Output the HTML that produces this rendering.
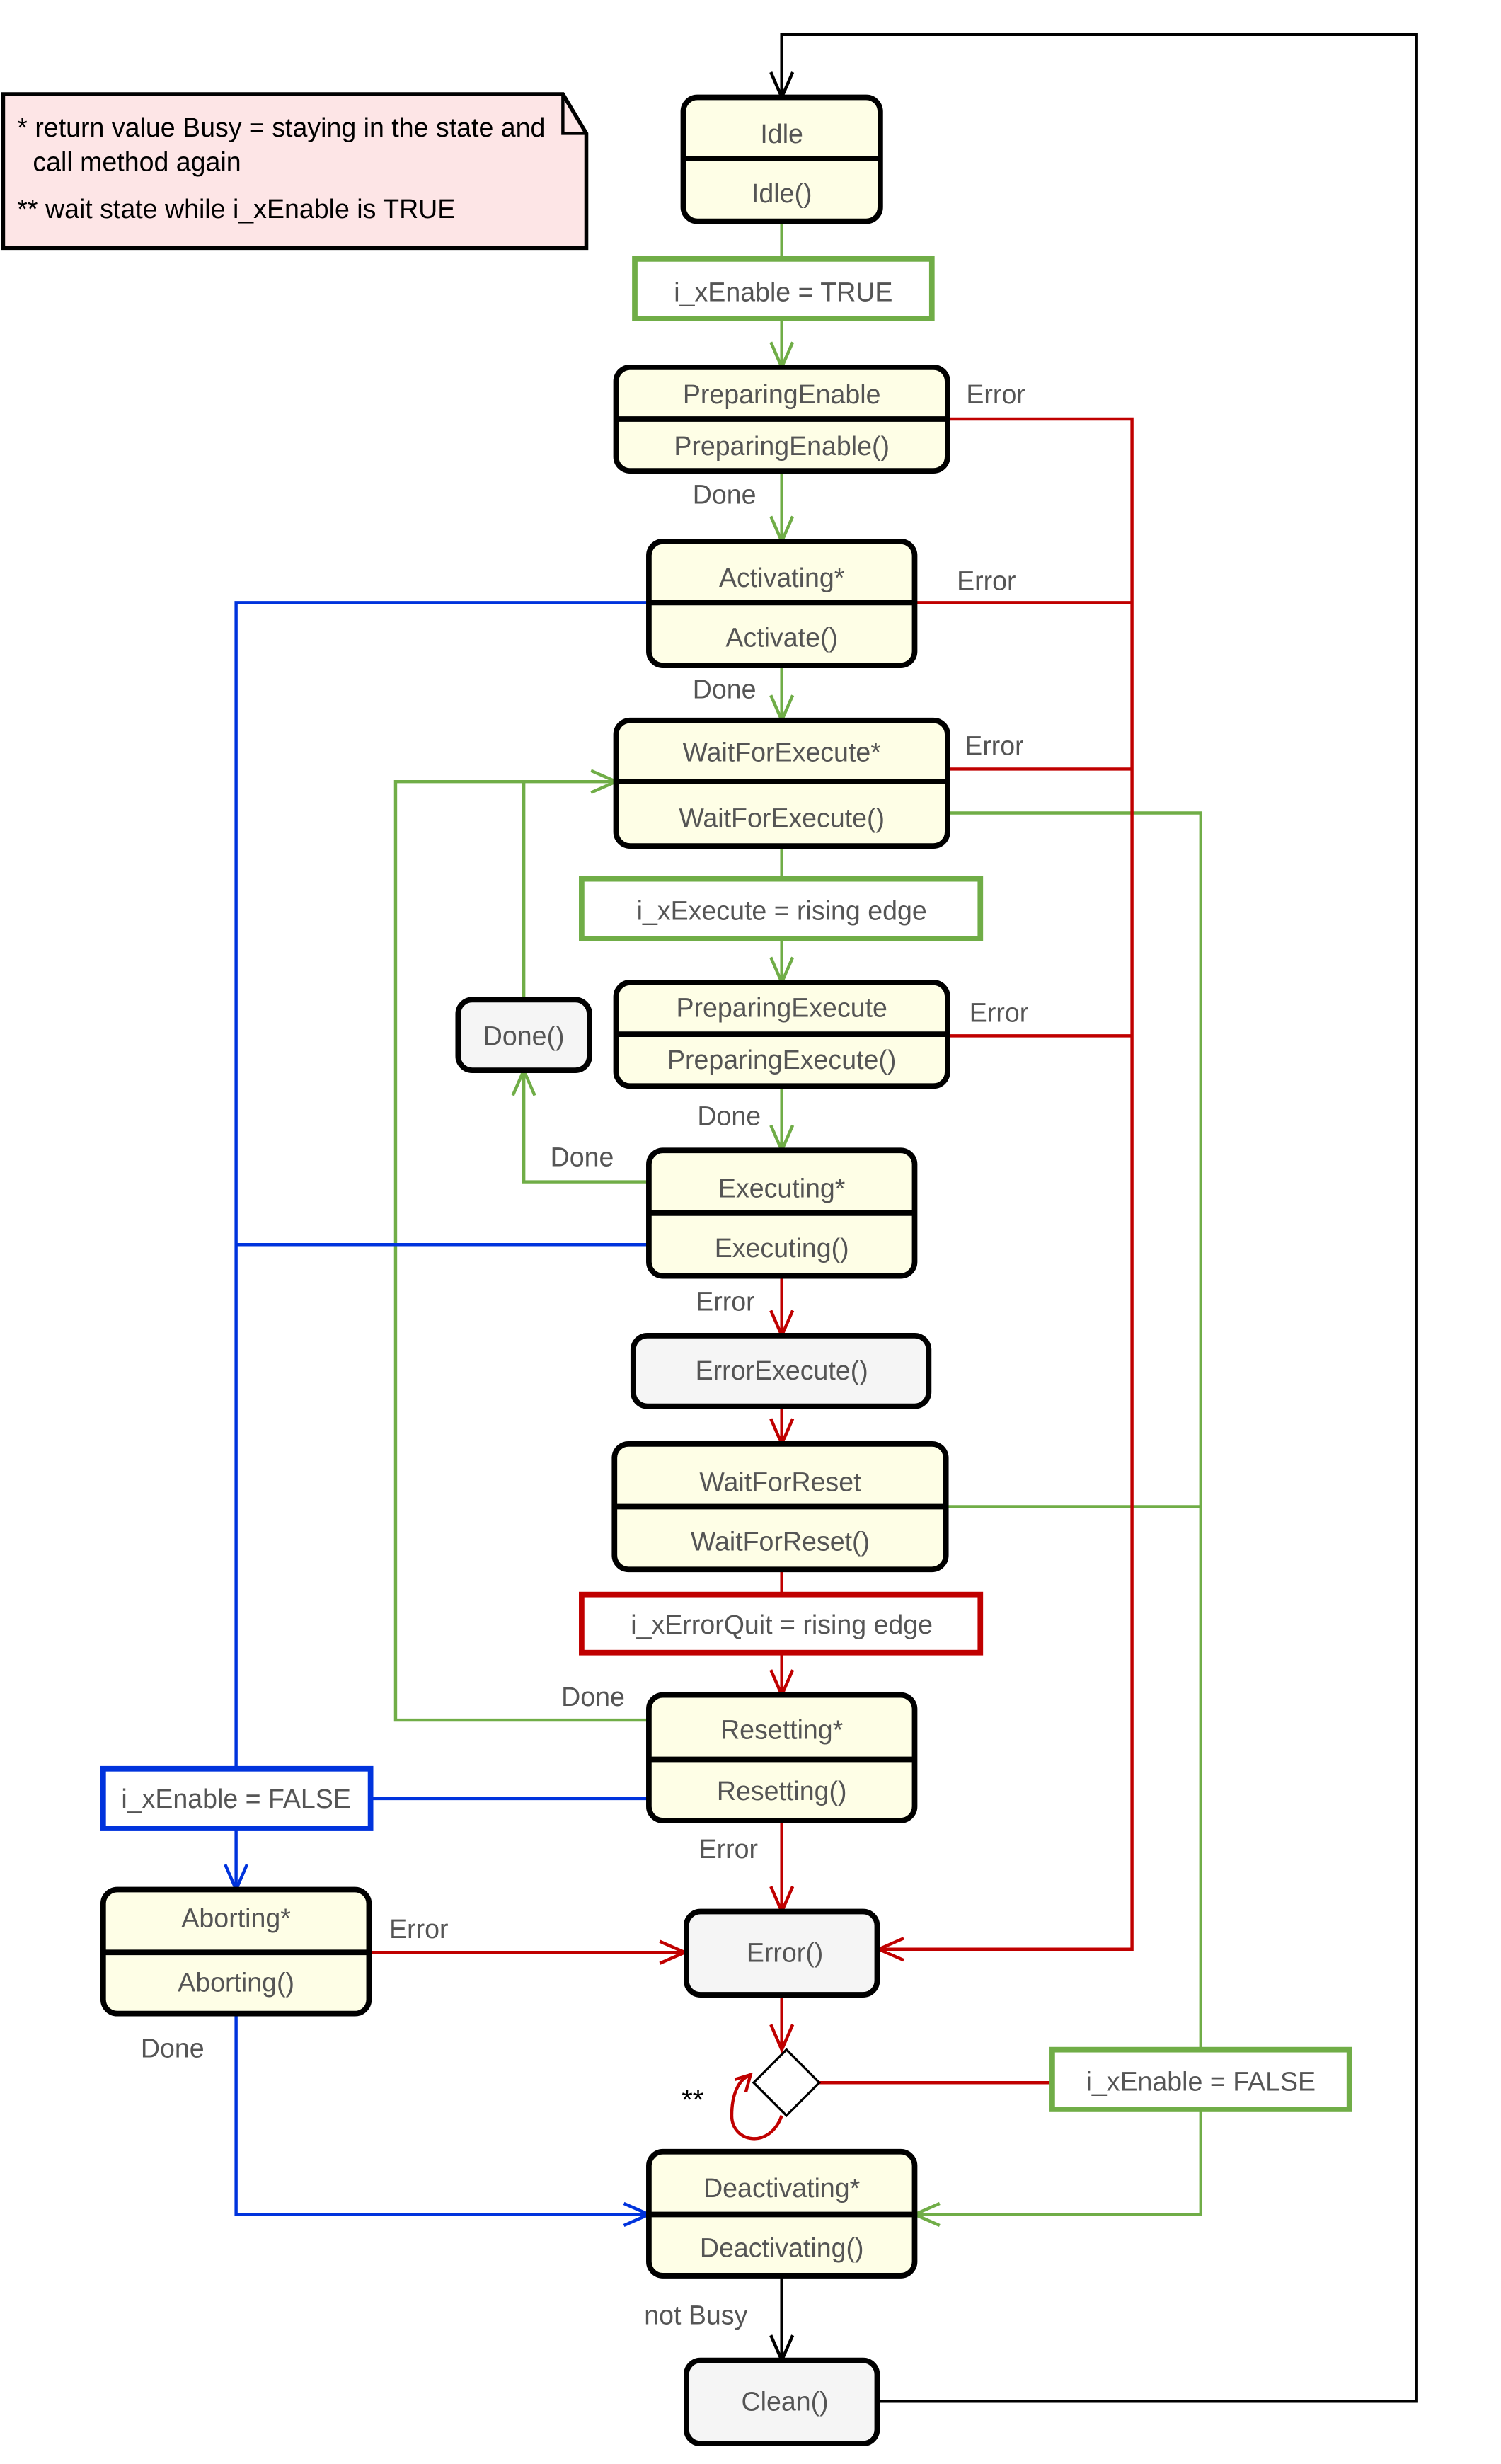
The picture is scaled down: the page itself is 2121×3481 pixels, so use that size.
<!DOCTYPE html>
<html><head><meta charset="utf-8"><style>html,body{margin:0;padding:0;background:#fff}svg{display:block}</style></head>
<body>
<svg width="2121" height="3481" viewBox="0 0 960 1570" preserveAspectRatio="none" xmlns="http://www.w3.org/2000/svg" font-family="Liberation Sans, sans-serif" font-size="17">
<g fill="none" stroke-linejoin="miter">
<!-- note -->
<path d="M2 60 H360 L375 85 V158 H2 Z" fill="#fde5e6" stroke="#000" stroke-width="2.5"/>
<path d="M360 60 V85 H375" stroke="#000" stroke-width="2"/>

<!-- black loop -->
<path d="M561 1530 H906 V22 H500 V62" stroke="#000" stroke-width="2"/>
<polyline points="493,46 500,62 507,46" stroke="#000" stroke-width="2"/>
<path d="M500 1450 V1504" stroke="#000" stroke-width="2"/>
<polyline points="493,1488 500,1504 507,1488" stroke="#000" stroke-width="2"/>

<!-- green lines -->
<g stroke="#70ad47" stroke-width="2">
<path d="M500 141 V165 M500 203 V234"/><polyline points="493,218 500,234 507,218"/>
<path d="M500 300 V345"/><polyline points="493,329 500,345 507,329"/>
<path d="M500 424 V459"/><polyline points="493,443 500,459 507,443"/>
<path d="M500 539 V560 M500 598 V626"/><polyline points="493,610 500,626 507,610"/>
<path d="M500 692 V733"/><polyline points="493,717 500,733 507,717"/>
<path d="M606 518 H768 V1306 M605 960 H768 M768 1344 V1411 H585"/><polyline points="601,1404 585,1411 601,1418"/>
<path d="M335 637 V498 H394 M415 1096 H253 V498 H335"/><polyline points="378,491 394,498 378,505"/>
<path d="M415 753 H335 V682"/><polyline points="328,698 335,682 342,698"/>
</g>
<!-- red lines -->
<g stroke="#c00000" stroke-width="2">
<path d="M606 267 H724 V1242 H562 M585 384 H724 M606 490 H724 M606 660 H724"/><polyline points="578,1235 562,1242 578,1249"/>
<path d="M500 813 V851"/><polyline points="493,835 500,851 507,835"/>
<path d="M500 896 V920"/><polyline points="493,904 500,920 507,904"/>
<path d="M500 1000 V1016 M500 1053 V1080"/><polyline points="493,1064 500,1080 507,1064"/>
<path d="M500 1160 V1218"/><polyline points="493,1202 500,1218 507,1202"/>
<path d="M236 1244 H438"/><polyline points="422,1237 438,1244 422,1251"/>
<path d="M500 1271 V1306"/><polyline points="493,1290 500,1306 507,1290"/>
<path d="M524 1327 H673"/>
<path d="M500 1348 C492 1370 468 1365 468 1348 C468 1335 472 1325 480 1322"/><polyline points="470,1325 480,1322 477,1333"/>
</g>
<!-- blue -->
<g stroke="#0033dd" stroke-width="2">
<path d="M415 384 H151 V1127 M415 793 H151 M415 1146 H237 M151 1165 V1204"/><polyline points="144,1188 151,1204 158,1188"/>
<path d="M151 1283 V1411 H415"/><polyline points="399,1404 415,1411 399,1418"/>
</g>
<!-- diamond -->
<path d="M503 1306 L524 1327 L503 1348 L482 1327 Z" fill="#fff" stroke="#000" stroke-width="1.5"/>

<!-- guard boxes -->
<rect x="406" y="165" width="190" height="38" fill="#fff" stroke="#70ad47" stroke-width="3.5"/>
<rect x="372" y="560" width="255" height="38" fill="#fff" stroke="#70ad47" stroke-width="3.5"/>
<rect x="372" y="1016" width="255" height="37" fill="#fff" stroke="#c00000" stroke-width="3.5"/>
<rect x="66" y="1127" width="171" height="38" fill="#fff" stroke="#0033dd" stroke-width="3.5"/>
<rect x="673" y="1306" width="190" height="38" fill="#fff" stroke="#70ad47" stroke-width="3.5"/>

<!-- states -->
<g stroke="#000" stroke-width="3.5" fill="#fefee6">
<rect x="437" y="62" width="126" height="79" rx="9"/><path d="M437 101 H563"/>
<rect x="394" y="234" width="212" height="66" rx="9"/><path d="M394 267 H606"/>
<rect x="415" y="345" width="170" height="79" rx="9"/><path d="M415 384 H585"/>
<rect x="394" y="459" width="212" height="80" rx="9"/><path d="M394 498 H606"/>
<rect x="394" y="626" width="212" height="66" rx="9"/><path d="M394 659 H606"/>
<rect x="415" y="733" width="170" height="80" rx="9"/><path d="M415 773 H585"/>
<rect x="393" y="920" width="212" height="80" rx="9"/><path d="M393 960 H605"/>
<rect x="415" y="1080" width="170" height="80" rx="9"/><path d="M415 1121 H585"/>
<rect x="66" y="1204" width="170" height="79" rx="9"/><path d="M66 1244 H236"/>
<rect x="415" y="1371" width="170" height="79" rx="9"/><path d="M415 1411 H585"/>
<rect x="293" y="637" width="84" height="45" rx="9" fill="#f5f5f5"/>
<rect x="405" y="851" width="189" height="45" rx="9" fill="#f5f5f5"/>
<rect x="439" y="1218" width="122" height="53" rx="9" fill="#f5f5f5"/>
<rect x="439" y="1504" width="122" height="53" rx="9" fill="#f5f5f5"/>
</g>
</g>

<g fill="#000">
<text x="11" y="87">* return value Busy = staying in the state and</text>
<text x="21" y="109">call method again</text>
<text x="11" y="139">** wait state while i_xEnable is TRUE</text>
<text x="436" y="1344" font-size="18">**</text>
</g>
<g fill="#555" text-anchor="middle">
<text x="500" y="91">Idle</text><text x="500" y="129">Idle()</text>
<text x="501" y="192">i_xEnable = TRUE</text>
<text x="500" y="257">PreparingEnable</text><text x="500" y="290">PreparingEnable()</text>
<text x="500" y="374">Activating*</text><text x="500" y="412">Activate()</text>
<text x="500" y="485">WaitForExecute*</text><text x="500" y="527">WaitForExecute()</text>
<text x="500" y="586">i_xExecute = rising edge</text>
<text x="500" y="648">PreparingExecute</text><text x="500" y="681">PreparingExecute()</text>
<text x="335" y="666">Done()</text>
<text x="500" y="763">Executing*</text><text x="500" y="801">Executing()</text>
<text x="500" y="879">ErrorExecute()</text>
<text x="499" y="950">WaitForReset</text><text x="499" y="988">WaitForReset()</text>
<text x="500" y="1041">i_xErrorQuit = rising edge</text>
<text x="500" y="1108">Resetting*</text><text x="500" y="1147">Resetting()</text>
<text x="151" y="1152">i_xEnable = FALSE</text>
<text x="151" y="1228">Aborting*</text><text x="151" y="1269">Aborting()</text>
<text x="502" y="1250">Error()</text>
<text x="768" y="1332">i_xEnable = FALSE</text>
<text x="500" y="1400">Deactivating*</text><text x="500" y="1438">Deactivating()</text>
<text x="502" y="1536">Clean()</text>
</g>
<g fill="#555">
<text x="618" y="257">Error</text>
<text x="443" y="321">Done</text>
<text x="612" y="376">Error</text>
<text x="443" y="445">Done</text>
<text x="617" y="481">Error</text>
<text x="620" y="651">Error</text>
<text x="446" y="717">Done</text>
<text x="352" y="743">Done</text>
<text x="445" y="835">Error</text>
<text x="359" y="1087">Done</text>
<text x="447" y="1184">Error</text>
<text x="249" y="1235">Error</text>
<text x="90" y="1311">Done</text>
<text x="412" y="1481">not Busy</text>
</g>
</svg>
</body></html>
